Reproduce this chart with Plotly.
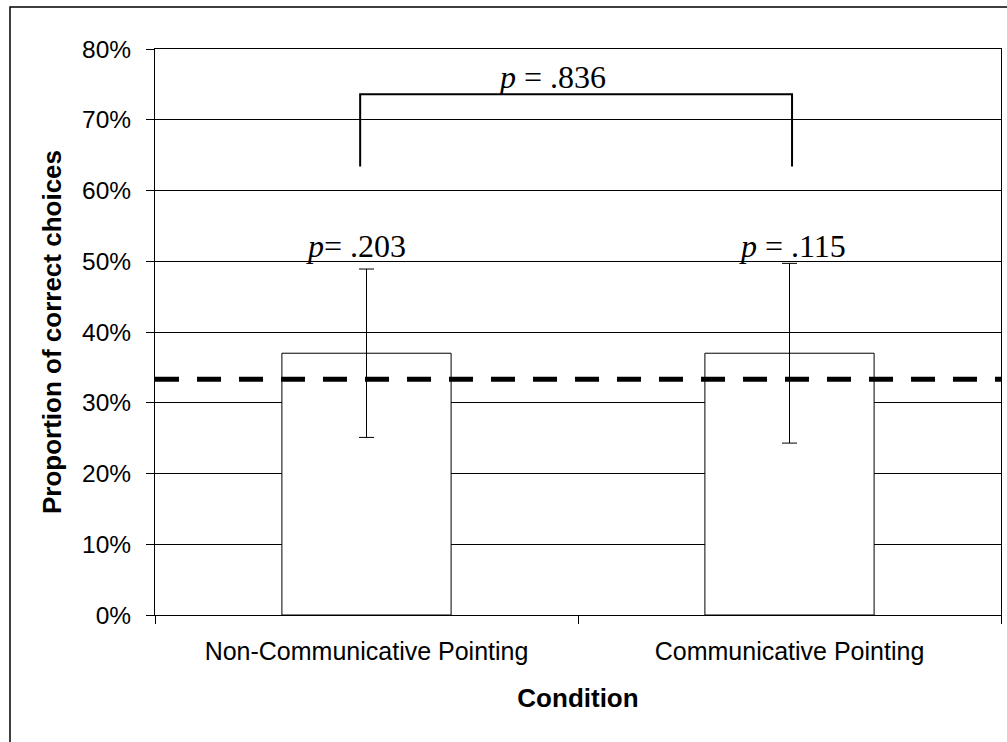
import plotly.graph_objects as go

# ---- data ----
conditions = ["Non-Communicative Pointing", "Communicative Pointing"]
proportions = [0.37, 0.37]
errors = [0.119, 0.127]
chance_level = 1 / 3
p_labels = ["<i>p</i>= .203", "<i>p</i> = .115"]
p_label_y = [0.521, 0.521]
comparison_label = "<i>p</i> = .836"
bracket_top = 0.736
bracket_bottom = 0.634
y_ticks = [0, 0.1, 0.2, 0.3, 0.4, 0.5, 0.6, 0.7, 0.8]

fig = go.Figure()
fig.add_trace(go.Bar(
    x=conditions, y=proportions, width=0.4,
    marker=dict(color="white", line=dict(color="black", width=1)),
    error_y=dict(type="data", array=errors, visible=True,
                 color="black", thickness=1, width=7.5),
    showlegend=False,
))

# chance line
fig.add_shape(type="line", xref="paper", yref="y", x0=0, x1=1,
              y0=chance_level, y1=chance_level,
              line=dict(color="black", width=5, dash="24px,18px"), layer="above")

# bracket
fig.add_shape(type="path", xref="x", yref="y",
              path=f"M -0.015,{bracket_bottom} L -0.015,{bracket_top} L 1.006,{bracket_top} L 1.006,{bracket_bottom}",
              line=dict(color="black", width=2), layer="above")

serif = "Liberation Serif, Times New Roman, serif"
fig.add_annotation(x=0.4385, y=0.760, xref="x", yref="y", text=comparison_label,
                   showarrow=False, font=dict(family=serif, size=32, color="black"),
                   xanchor="center", yanchor="middle")
for i, (lab, yy) in enumerate(zip(p_labels, p_label_y)):
    xoff = [-0.025, 0.006][i]
    fig.add_annotation(x=i + xoff, y=yy, xref="x", yref="y", text=lab,
                       showarrow=False, font=dict(family=serif, size=32, color="black"),
                       xanchor="center", yanchor="middle")

# outer border
fig.add_shape(type="rect", xref="paper", yref="paper",
              x0=(10 - 155) / 846, x1=(1012 - 155) / 846,
              y0=(615 - 750) / 566, y1=(615 - 7) / 566,
              line=dict(color="black", width=1.5), fillcolor="rgba(0,0,0,0)")

sans = "Liberation Sans, Arial, sans-serif"
fig.update_layout(
    width=1007, height=742,
    margin=dict(l=155, r=6, t=49, b=127),
    paper_bgcolor="white", plot_bgcolor="white",
    bargap=0.6,
    font=dict(family=sans, color="black"),
    xaxis=dict(
        type="category", showline=True, linecolor="black", linewidth=1, mirror=True,
        ticks="outside", tickson="boundaries", ticklen=8, tickcolor="black",
        ticklabelstandoff=14,
        tickfont=dict(family=sans, size=25, color="black"), showgrid=False,
        title=dict(text="<b>Condition</b>", font=dict(family=sans, size=26, color="black"), standoff=24),
    ),
    yaxis=dict(
        range=[0, 0.8], tickvals=y_ticks, tickformat=".0%",
        showline=True, linecolor="black", linewidth=1, mirror=True,
        ticks="outside", ticklen=8, tickcolor="black",
        ticklabelstandoff=10,
        tickfont=dict(family=sans, size=24.5, color="black"),
        showgrid=True, gridcolor="black", gridwidth=1, zeroline=False,
        title=dict(text="<b>Proportion of correct choices</b>", font=dict(family=sans, size=26, color="black"), standoff=12),
    ),
)

fig.write_html("out.html", config={"displayModeBar": False},
               post_script="document.body.style.margin='0';")
